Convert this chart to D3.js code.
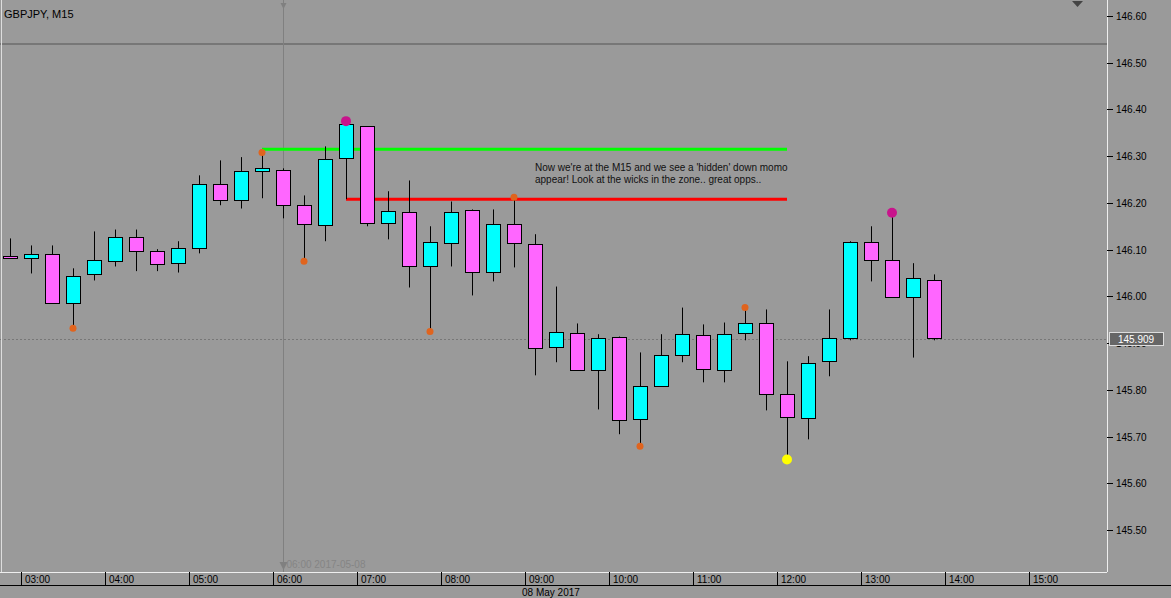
<!DOCTYPE html>
<html><head><meta charset="utf-8">
<script src="https://cdn.jsdelivr.net/npm/d3@7"></script>
<style>body{margin:0;background:#9a9a9a}svg{display:block}text{font-family:"Liberation Sans",Arial,sans-serif}</style>
</head><body><div id="chart"></div>
<script>
// GBPJPY M15, 08 May 2017, bars from 02:45
const startTime = "2017-05-08 02:45";
const opens  = [146.086,146.081,146.090,145.985,146.047,146.077,146.128,146.098,146.071,146.103,146.240,146.206,146.268,146.270,146.195,146.154,146.295,146.364,146.156,146.180,146.064,146.113,146.184,146.051,146.154,146.113,145.891,145.921,145.842,145.914,145.739,145.807,145.874,145.917,145.842,145.921,145.942,145.790,145.739,145.861,145.910,146.116,146.077,145.998,146.034];
const highs  = [146.124,146.109,146.109,146.060,146.139,146.143,146.143,146.101,146.118,146.259,146.291,146.298,146.308,146.274,146.216,146.321,146.368,146.364,146.225,146.248,146.150,146.203,146.186,146.186,146.212,146.133,146.021,145.942,145.919,145.914,145.880,145.919,145.976,145.940,145.944,145.972,145.972,145.861,145.872,145.972,146.118,146.150,146.173,146.071,146.047];
const lows   = [146.081,146.049,145.985,145.936,146.034,146.064,146.054,146.054,146.051,146.092,146.195,146.188,146.210,146.167,146.077,146.118,146.208,146.150,146.122,146.019,145.927,146.064,146.002,146.032,146.062,145.831,145.859,145.842,145.758,145.705,145.681,145.807,145.859,145.816,145.816,145.906,145.756,145.653,145.694,145.829,145.906,146.032,145.998,145.869,145.906];
const closes = [146.081,146.090,145.985,146.043,146.077,146.128,146.098,146.071,146.103,146.240,146.206,146.268,146.274,146.195,146.154,146.295,146.368,146.156,146.182,146.064,146.116,146.180,146.051,146.154,146.113,145.891,145.923,145.842,145.910,145.737,145.809,145.874,145.919,145.844,145.919,145.942,145.790,145.741,145.857,145.910,146.116,146.077,145.998,146.039,145.910];
const orangeDots = [[3,145.932],[12,146.308],[14,146.075],[20,145.925],[24,146.212],[30,145.679],[35,145.976]];
const magentaDots = [[16,146.375],[42,146.179]];
const yellowDots = [[37,145.651]];
const greenLine = {from:12, to:37, price:146.315};
const redLine = {from:16, to:37, price:146.208};
const priceTicks = [146.60,146.50,146.40,146.30,146.20,146.10,146.00,145.90,145.80,145.70,145.60,145.50];
const hourTicks = ["03:00","04:00","05:00","06:00","07:00","08:00","09:00","10:00","11:00","12:00","13:00","14:00","15:00"];
const lastPrice = 145.909;
const note = ["Now we're at the M15 and we see a 'hidden' down momo","appear! Look at the wicks in the zone.. great opps.."];

const W=1171,H=598,plotR=1107,plotB=572;
const parse=d3.timeParse("%Y-%m-%d %H:%M");
const t0=parse(startTime);
const times=opens.map((d,i)=>d3.timeMinute.offset(t0,15*i));
const x=d3.scaleTime().domain([t0,d3.timeMinute.offset(t0,15*49)]).range([10,10+21*49]);
const y=d3.scaleLinear().domain([145.5,146.6]).range([530,16]);
const xi=i=>Math.round(x(times[i]));

const svg=d3.select("#chart").append("svg").attr("width",W).attr("height",H);
svg.append("rect").attr("width",W).attr("height",H).attr("fill","#9a9a9a");
const plot=svg.append("g");
plot.append("line").attr("x1",0).attr("x2",plotR).attr("y1",44).attr("y2",44).attr("stroke","#555");
// crosshair at 06:00
const xc=xi(13)+0.5;
plot.append("line").attr("x1",xc).attr("x2",xc).attr("y1",0).attr("y2",plotB).attr("stroke","#808080");
plot.append("path").attr("d",`M${xc-3},3L${xc+3},3L${xc},9Z`).attr("fill","#808080");
plot.append("path").attr("d",`M${xc-4},562L${xc+4},562L${xc},570Z`).attr("fill","#808080");
plot.append("text").attr("x",xc+3).attr("y",568).attr("font-size",10).attr("fill","#858585").text("06:00 2017-05-08");
plot.append("path").attr("d","M1072,1L1083,1L1077.5,7Z").attr("fill","#444");
// last price dotted
plot.append("line").attr("x1",0).attr("x2",plotR).attr("y1",Math.round(y(lastPrice))+0.5).attr("y2",Math.round(y(lastPrice))+0.5).attr("stroke","#777").attr("stroke-dasharray","2,2");

// lines
[[greenLine,"#00ff00"],[redLine,"#ff0000"]].forEach(([l,c])=>{
  plot.append("line").attr("x1",xi(l.from)).attr("x2",xi(l.to)).attr("y1",y(l.price)).attr("y2",y(l.price)).attr("stroke",c).attr("stroke-width",3);
});

// candles
const g=plot.selectAll("g.c").data(opens.map((o,i)=>({i,o,h:highs[i],l:lows[i],c:closes[i]}))).enter().append("g");
g.append("line").attr("x1",d=>xi(d.i)+0.5).attr("x2",d=>xi(d.i)+0.5).attr("y1",d=>y(d.h)).attr("y2",d=>y(d.l)).attr("stroke","#000");
g.append("rect").attr("x",d=>xi(d.i)-6.5).attr("width",14)
  .attr("y",d=>Math.round(y(Math.max(d.o,d.c)))+0.5)
  .attr("height",d=>Math.max(2,Math.round(Math.abs(y(d.o)-y(d.c)))))
  .attr("fill",d=>d.c>=d.o?"#00ffff":"#ff66ff").attr("stroke","#000");

const dots=(arr,col,r)=>plot.selectAll(null).data(arr).enter().append("circle")
  .attr("cx",d=>xi(d[0])).attr("cy",d=>y(d[1])).attr("r",r).attr("fill",col);
dots(orangeDots,"#e0641e",3.5);
dots(magentaDots,"#c8148c",5);
dots(yellowDots,"#ffff00",5);

plot.selectAll(null).data(note).enter().append("text").attr("x",535).attr("y",(d,i)=>171+i*12)
  .attr("font-size",10).attr("fill","#111").text(d=>d);
plot.append("text").attr("x",4).attr("y",18).attr("font-size",11).attr("fill","#000").text("GBPJPY, M15");

// frame
svg.append("line").attr("x1",1.5).attr("x2",1.5).attr("y1",0).attr("y2",plotB).attr("stroke","#ddd");
svg.append("line").attr("x1",plotR+0.5).attr("x2",plotR+0.5).attr("y1",0).attr("y2",plotB).attr("stroke","#eee");
svg.append("line").attr("x1",0).attr("x2",plotR).attr("y1",plotB+0.5).attr("y2",plotB+0.5).attr("stroke","#eee");
svg.append("line").attr("x1",0).attr("x2",W).attr("y1",585.5).attr("y2",585.5).attr("stroke","#000");

// price axis
const pa=svg.append("g");
pa.selectAll(null).data(priceTicks).enter().append("line").attr("x1",plotR).attr("x2",plotR+6)
  .attr("y1",d=>Math.round(y(d))+0.5).attr("y2",d=>Math.round(y(d))+0.5).attr("stroke","#000");
pa.selectAll(null).data(priceTicks).enter().append("text").attr("x",1116).attr("y",d=>y(d)+4)
  .attr("font-size",10).attr("fill","#000").text(d=>d3.format(".2f")(d));
const ly=Math.round(y(lastPrice));
pa.append("rect").attr("x",1109.5).attr("y",ly-6.5).attr("width",54).attr("height",13).attr("fill","#666").attr("stroke","#ddd");
pa.append("text").attr("x",1136).attr("y",ly+4).attr("text-anchor","middle").attr("font-size",10).attr("fill","#fff").text(d3.format(".3f")(lastPrice));

// time axis
const hp=d3.timeParse("%H:%M");
const hx=s=>{const t=hp(s);return Math.round(x(new Date(2017,4,8,t.getHours(),0)))-10;};
const ta=svg.append("g");
ta.selectAll(null).data(hourTicks).enter().append("line").attr("x1",d=>hx(d)+0.5).attr("x2",d=>hx(d)+0.5)
  .attr("y1",plotB).attr("y2",585).attr("stroke","#000");
ta.selectAll(null).data(hourTicks).enter().append("text").attr("x",d=>hx(d)+4).attr("y",583)
  .attr("font-size",10).attr("fill","#000").text(d=>d);
ta.append("text").attr("x",522).attr("y",596).attr("font-size",10).attr("fill","#000").text("08 May 2017");
</script></body></html>
